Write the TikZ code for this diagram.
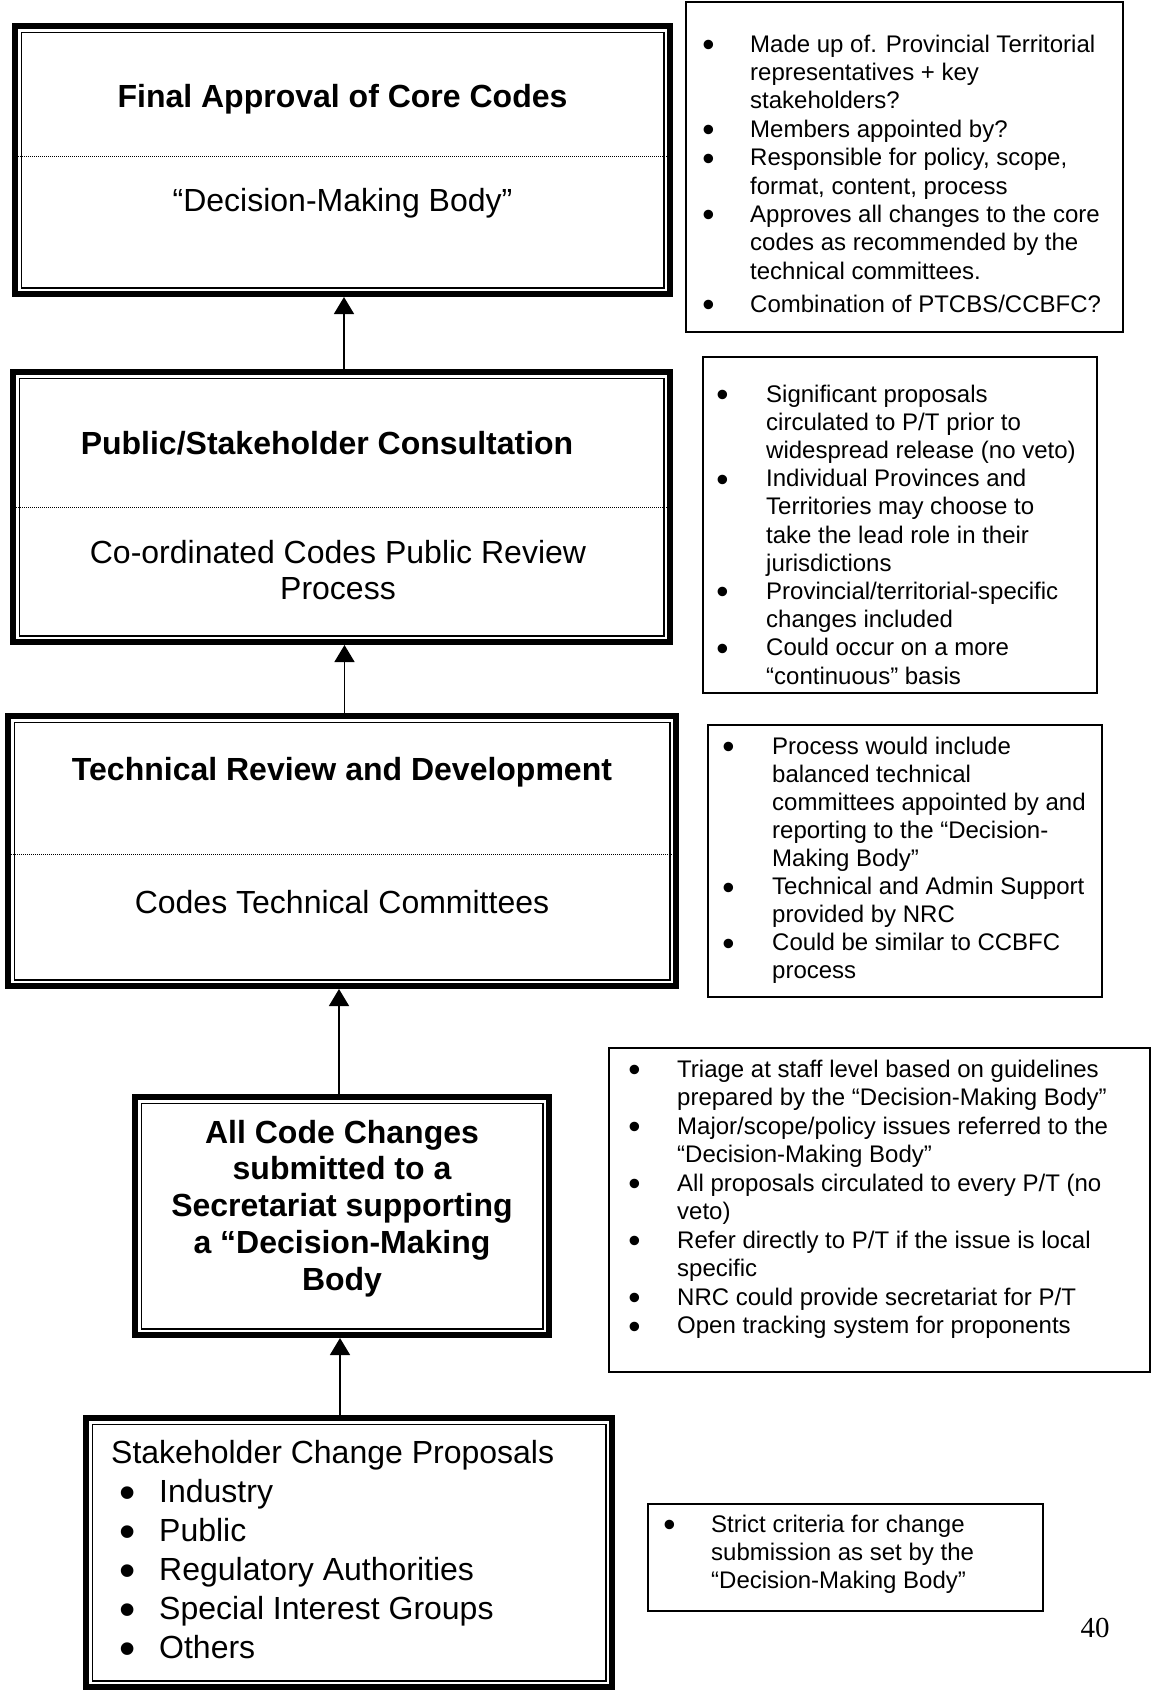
\documentclass[tikz,border=0pt]{standalone}
\usepackage{fontspec}
\usepackage{graphicx}
\setmainfont{Liberation Sans}
\newfontfamily\serifpg{Liberation Serif}
\usetikzlibrary{arrows.meta,calc}
\newlength{\bwid}
\newcommand{\bigdot}{\hspace*{-0.07em}\smash{\raisebox{-0.19em}{\scalebox{1.45}{\textbullet}}}}
\newcommand{\bul}{\makebox[\bwid][l]{\bigdot}}
\newcommand{\hin}{\hspace*{\bwid}}
\tikzset{
  mainbox/.style={draw, line width=6pt, inner sep=0pt, outer sep=3pt},
  innerline/.style={line width=1.5pt},
  divider/.style={line width=1pt, dash pattern=on 1pt off 1pt},
  notebox/.style={draw, line width=1.3pt, inner sep=0pt, outer sep=0pt, anchor=north west},
  ttl/.style={font=\fontsize{32}{37}\selectfont\bfseries, inner sep=0pt, anchor=base},
  subtxt/.style={font=\fontsize{32}{36.7}\selectfont, inner sep=0pt, anchor=base},
  note/.style={font=\fontsize{24}{28.4}\selectfont, inner sep=0pt, anchor=base west},
  flow/.style={line width=1.5pt, -{Triangle[width=20pt,length=17pt]}}
}
\begin{document}
\begin{tikzpicture}[x=1pt,y=-1pt]
\useasboundingbox (0,0) rectangle (1157,1692);

% ---------- main boxes ----------
\node[mainbox, minimum width=655pt, minimum height=268pt] (b1) at (342.5,160) {};
\node[mainbox, minimum width=657pt, minimum height=270pt] (b2) at (341.5,507) {};
\node[mainbox, minimum width=668pt, minimum height=270pt] (b3) at (342,851) {};
\node[mainbox, minimum width=414pt, minimum height=238pt] (b4) at (342,1216) {};
\node[mainbox, minimum width=526pt, minimum height=269pt] (b5) at (349,1552.5) {};

\foreach \b in {b1,b2,b3,b4,b5}{
  \draw[innerline] ([shift={(9.25,9.25)}]\b.north west) rectangle ([shift={(-9.25,-9.25)}]\b.south east);
}

% dividers
\draw[divider] (18,156) -- (667,156);
\draw[divider] (16,507) -- (667,507);
\draw[divider] (11,854) -- (673,854);

% texts in main boxes
\node[ttl] (t1) at (342.5,107) {Final Approval of Core Codes};
\node[subtxt] (s1) at (342.5,211) {“Decision-Making Body”};

\node[ttl] (t2) at (327,454) {Public/Stakeholder Consultation};
\node[subtxt] (s2) at (338,563) {\begin{tabular}[t]{@{}c@{}}Co-ordinated Codes Public Review\\Process\end{tabular}};

\node[ttl] (t3) at (342,780) {Technical Review and Development};
\node[subtxt] (s3) at (342,913) {Codes Technical Committees};

\node[ttl, font=\fontsize{32}{36.75}\selectfont\bfseries] (t4) at (342,1143) {\begin{tabular}[t]{@{}c@{}}All Code Changes\\submitted to a\\Secretariat supporting\\a “Decision-Making\\Body\end{tabular}};

\node[note, font=\fontsize{32}{39}\selectfont] (t5) at (111,1463) {\setlength{\bwid}{37.6pt}\begin{tabular}[t]{@{}l@{}}Stakeholder Change Proposals\\
\hspace*{10.4pt}\bul Industry\\
\hspace*{10.4pt}\bul Public\\
\hspace*{10.4pt}\bul Regulatory Authorities\\
\hspace*{10.4pt}\bul Special Interest Groups\\
\hspace*{10.4pt}\bul Others\end{tabular}};

% ---------- connectors ----------
\coordinate (a1) at ([xshift=2.5pt]b2.north);
\coordinate (a2) at ([xshift=2.5pt]b3.north);
\coordinate (a3) at ([xshift=-3pt]b4.north);
\coordinate (a4) at ([xshift=-9pt]b5.north);
\draw[flow] (a1) -- (a1 |- b1.south);
\draw[flow] (a2) -- (a2 |- b2.south);
\draw[flow] (a3) -- (a3 |- b3.south);
\draw[flow] (a4) -- (a4 |- b4.south);

% ---------- note boxes ----------
\node[notebox, minimum width=437pt, minimum height=330pt] (nA) at (686,2) {};
\node[note] (tA) at (703.8,52) {\setlength{\bwid}{46.2pt}\begin{tabular}[t]{@{}l@{}}\bul Made up of. Provincial Territorial\\
\hin representatives + key\\
\hin stakeholders?\\
\bul Members appointed by?\\
\bul Responsible for policy, scope,\\
\hin format, content, process\\
\bul Approves all changes to the core\\
\hin codes as recommended by the\\
\hin technical committees.\\[4.5pt]
\bul Combination of PTCBS/CCBFC?\end{tabular}};

\node[notebox, minimum width=394pt, minimum height=336pt] (nB) at (703,357) {};
\node[note, font=\fontsize{24}{28.2}\selectfont] (tB) at (717.8,402) {\setlength{\bwid}{48.2pt}\begin{tabular}[t]{@{}l@{}}\bul Significant proposals\\
\hin circulated to P/T prior to\\
\hin widespread release (no veto)\\
\bul Individual Provinces and\\
\hin Territories may choose to\\
\hin take the lead role in their\\
\hin jurisdictions\\
\bul Provincial/territorial-specific\\
\hin changes included\\
\bul Could occur on a more\\
\hin “continuous” basis\end{tabular}};

\node[notebox, minimum width=394pt, minimum height=272pt] (nC) at (708,725) {};
\node[note, font=\fontsize{24}{28.1}\selectfont] (tC) at (723.8,754) {\setlength{\bwid}{48.2pt}\begin{tabular}[t]{@{}l@{}}\bul Process would include\\
\hin balanced technical\\
\hin committees appointed by and\\
\hin reporting to the “Decision-\\
\hin Making Body”\\
\bul Technical and Admin Support\\
\hin provided by NRC\\
\bul Could be similar to CCBFC\\
\hin process\end{tabular}};

\node[notebox, minimum width=541pt, minimum height=324pt] (nD) at (609,1048) {};
\node[note, font=\fontsize{24}{28.5}\selectfont] (tD) at (629.8,1077) {\setlength{\bwid}{47.2pt}\begin{tabular}[t]{@{}l@{}}\bul Triage at staff level based on guidelines\\
\hin prepared by the “Decision-Making Body”\\
\bul Major/scope/policy issues referred to the\\
\hin “Decision-Making Body”\\
\bul All proposals circulated to every P/T (no\\
\hin veto)\\
\bul Refer directly to P/T if the issue is local\\
\hin specific\\
\bul NRC could provide secretariat for P/T\\
\bul Open tracking system for proponents\end{tabular}};

\node[notebox, minimum width=395pt, minimum height=107pt] (nE) at (648,1504) {};
\node[note, font=\fontsize{24}{28.2}\selectfont] (tE) at (664.8,1532) {\setlength{\bwid}{46.2pt}\begin{tabular}[t]{@{}l@{}}\bul Strict criteria for change\\
\hin submission as set by the\\
\hin “Decision-Making Body”\end{tabular}};

% page number
\node[font=\serifpg\fontsize{29}{31}\selectfont, inner sep=0pt, anchor=base] (pg) at (1095,1637) {40};
\end{tikzpicture}
\end{document}
